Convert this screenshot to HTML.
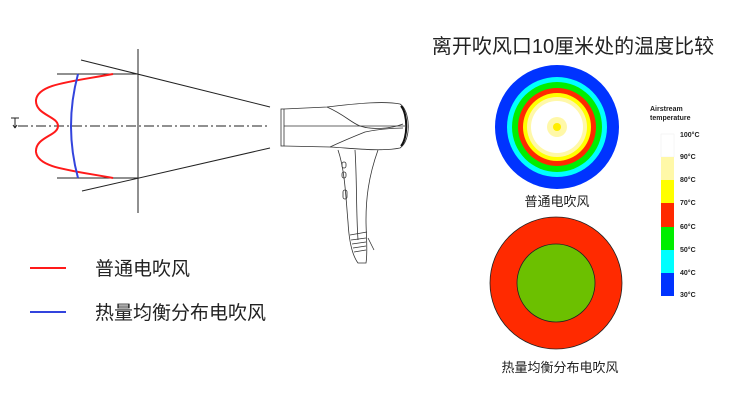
<!DOCTYPE html>
<html><head><meta charset="utf-8"><style>
body{margin:0;background:#fff;width:735px;height:412px;overflow:hidden}
svg{display:block}
text{font-family:"Liberation Sans","Noto Sans CJK SC",sans-serif}
</style></head><body>
<svg width="735" height="412" viewBox="0 0 735 412">
<g stroke="#222" stroke-width="1" fill="none">
<line x1="138" y1="49" x2="138" y2="213"/>
<line x1="57" y1="74" x2="138" y2="74"/>
<line x1="57" y1="178" x2="138" y2="178"/>
<line x1="81" y1="60" x2="270" y2="107"/>
<line x1="82" y1="191" x2="270" y2="148"/>
<line x1="18" y1="126" x2="270" y2="126" stroke-dasharray="10,3,2,3"/>
<line x1="11" y1="118" x2="19" y2="118"/>
<line x1="15" y1="118" x2="15" y2="128"/>
<path d="M15 128 l-2 -3 M15 128 l2 -3"/>
</g>
<path d="M113 74 C70 82 38 84 36 100 C35 115 58 116 58 126 C58 136 35 137 36 152 C38 168 70 170 113 178" stroke="#ff1a1a" stroke-width="2" fill="none"/>
<path d="M78 74 Q64 126 78 178" stroke="#3344dd" stroke-width="2" fill="none"/>
<g stroke="#333" stroke-width="0.8" fill="none">
<rect x="281" y="109" width="3" height="37"/>
<path d="M284 109 L327 107 C360 103 385 101 400 104 C410 110 412 140 400 148 C380 152 350 148 330 147 L284 146"/>
<path d="M284 126 L405 126"/>
<path d="M327 107 C345 115 350 122 360 126 C372 130 390 129 403 124"/>
<path d="M330 147 C345 140 355 136 365 132 C380 129 395 128 403 128"/>
<path d="M401 106 C408 114 408 138 401 146" stroke-width="2" stroke="#111"/>
<path d="M338 150 C345 170 346 200 348 222 C349 240 352 255 358 263 L366 263 C368 250 366 236 366 220 C366 200 368 178 378 150"/>
<path d="M355 150 C357 180 356 210 358 240"/>
<rect x="342" y="162" width="4" height="6" rx="2"/>
<rect x="342" y="172" width="4" height="6" rx="2"/>
<rect x="343" y="190" width="4" height="9" rx="2"/>
<path d="M350 235 L367 232 M351 240 L366 238 M352 244 L366 242 M353 248 L366 246 M354 252 L366 250"/>
<path d="M368 238 L374 250"/>
</g>
<line x1="30" y1="268" x2="66" y2="268" stroke="#ff1a1a" stroke-width="2"/>
<line x1="30" y1="312" x2="66" y2="312" stroke="#3344dd" stroke-width="2"/>
<text x="95" y="275" font-size="19" fill="#222">普通电吹风</text>
<text x="95" y="319" font-size="19" fill="#222">热量均衡分布电吹风</text>
<text x="573" y="53" font-size="20" fill="#222" text-anchor="middle">离开吹风口10厘米处的温度比较</text>
<circle cx="557" cy="127" r="62" fill="#0033ff"/>
<circle cx="557" cy="127" r="50" fill="#00ffff"/>
<circle cx="557" cy="127" r="45" fill="#00ee00"/>
<circle cx="557" cy="127" r="39" fill="#ff2a00"/>
<circle cx="557" cy="127" r="34" fill="#ffff00"/>
<circle cx="557" cy="127" r="30" fill="#fff8a8"/>
<circle cx="557" cy="127" r="26" fill="#ffffff"/>
<circle cx="557" cy="127" r="10" fill="#fff8a8"/>
<circle cx="557" cy="127" r="4" fill="#ffee00"/>
<text x="557" y="206" font-size="13" fill="#222" text-anchor="middle">普通电吹风</text>
<circle cx="556" cy="283" r="66" fill="#ff2a00" stroke="#222" stroke-width="0.8"/>
<circle cx="556" cy="283" r="39" fill="#6cc000" stroke="#222" stroke-width="0.8"/>
<text x="560" y="372" font-size="13" fill="#222" text-anchor="middle">热量均衡分布电吹风</text>
<text x="650" y="111" font-size="7" font-weight="bold" fill="#222">Airstream</text>
<text x="650" y="120" font-size="7" font-weight="bold" fill="#222">temperature</text>
<rect x="661" y="134" width="13" height="23" fill="#fff" stroke="#eee" stroke-width="0.5"/>
<rect x="661" y="157" width="13" height="23" fill="#fff8a8"/>
<rect x="661" y="180" width="13" height="23" fill="#ffff00"/>
<rect x="661" y="203" width="13" height="24" fill="#ff2a00"/>
<rect x="661" y="227" width="13" height="23" fill="#00ee00"/>
<rect x="661" y="250" width="13" height="23" fill="#00ffff"/>
<rect x="661" y="273" width="13" height="23" fill="#0033ff"/>
<g font-size="7" font-weight="bold" fill="#222">
<text x="680" y="137">100°C</text>
<text x="680" y="159">90°C</text>
<text x="680" y="182">80°C</text>
<text x="680" y="205">70°C</text>
<text x="680" y="229">60°C</text>
<text x="680" y="252">50°C</text>
<text x="680" y="275">40°C</text>
<text x="680" y="297">30°C</text>
</g>
</svg>
</body></html>
